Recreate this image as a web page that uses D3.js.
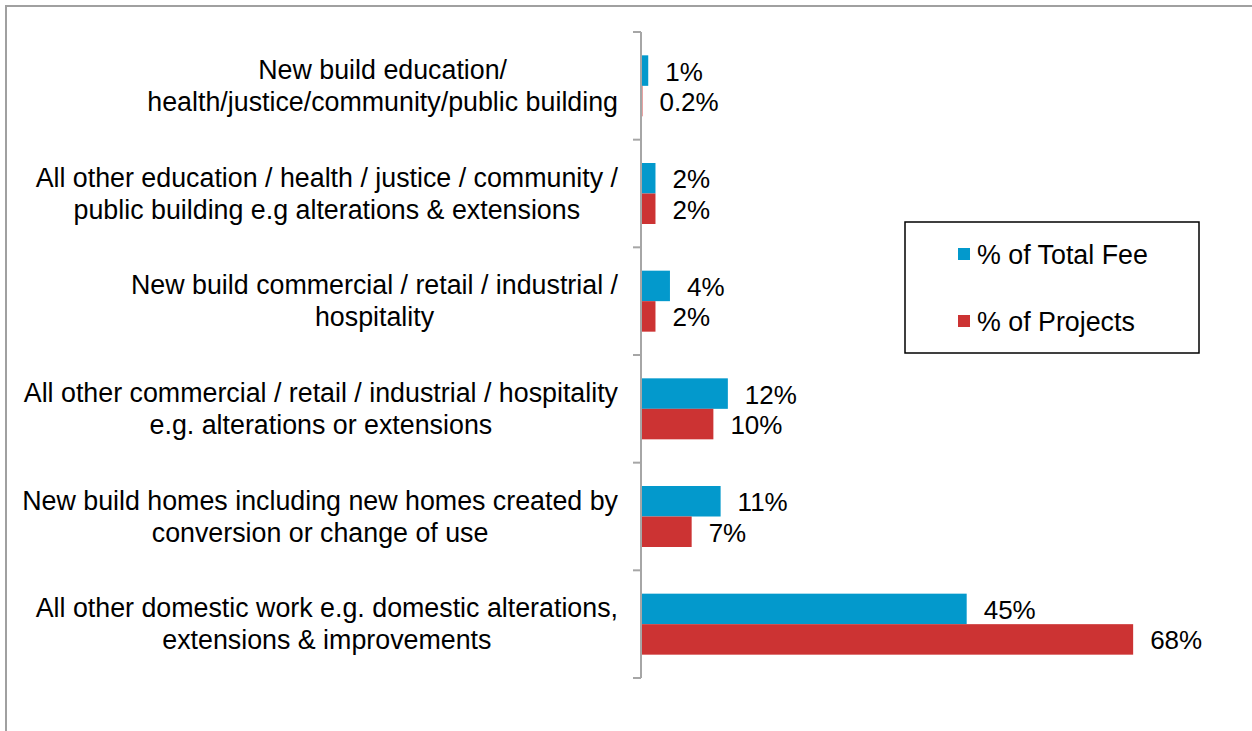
<!DOCTYPE html>
<html>
<head>
<meta charset="utf-8">
<script src="https://cdn.jsdelivr.net/npm/d3@7"></script>
<style>
  html, body { margin: 0; padding: 0; background: #fff; }
  svg { display: block; font-family: "Liberation Sans", Arial, sans-serif; }
</style>
</head>
<body>
<svg id="chart" width="1252" height="731"></svg>
<script>
// Work type categories, each label split into its display lines
const categories = [
  ["New build education/", "health/justice/community/public building"],
  ["All other education / health / justice / community /", "public building e.g alterations & extensions"],
  ["New build commercial / retail / industrial /", "hospitality"],
  ["All other commercial / retail / industrial / hospitality", "e.g. alterations or extensions"],
  ["New build homes including new homes created by", "conversion or change of use"],
  ["All other domestic work e.g. domestic alterations,", "extensions & improvements"]
];
// Share of total fee income (%)
const totalFee = [1, 2, 4, 12, 11, 45];
// Share of projects (%)
const projects = [0.2, 2, 2, 10, 7, 68];
const seriesNames = ["% of Total Fee", "% of Projects"];
const seriesColors = ["#0399cc", "#cc3333"];

const svg = d3.select("#chart");
const labelSize = 26.8;
const valueSize = 26;

// Outer chart frame (runs off the right and bottom edges)
svg.append("rect")
  .attr("x", 6).attr("y", 6)
  .attr("width", 1300).attr("height", 800)
  .attr("fill", "none")
  .attr("stroke", "#a0a0a0")
  .attr("stroke-width", 2);

const x0 = 641;
const x = d3.scaleLinear().domain([0, 80]).range([x0, x0 + 579]);
const idx = d3.range(categories.length);
const y = d3.scaleBand().domain(idx).range([32, 678]).padding(0);
const ySub = d3.scaleBand().domain([0, 1]).range([0, y.bandwidth()])
  .paddingInner(0).paddingOuter(0.765);

const data = idx.map(i => ({ i, values: [totalFee[i], projects[i]] }));

// Bars
const groups = svg.append("g").selectAll("g").data(data).join("g")
  .attr("transform", d => `translate(0,${y(d.i)})`);

groups.selectAll("rect").data(d => d.values.map((v, s) => ({ v, s })))
  .join("rect")
  .attr("x", x(0))
  .attr("y", d => ySub(d.s))
  .attr("width", d => x(d.v) - x(0))
  .attr("height", ySub.bandwidth())
  .attr("fill", d => seriesColors[d.s]);

// Value labels
groups.selectAll("text.val").data(d => d.values.map((v, s) => ({ v, s })))
  .join("text")
  .attr("class", "val")
  .attr("x", d => x(d.v) + 17)
  .attr("y", d => ySub(d.s) + ySub.bandwidth() / 2 + 1)
  .attr("dominant-baseline", "central")
  .attr("font-size", valueSize)
  .attr("fill", "#000")
  .text(d => d.v + "%");

// Category axis
const axis = d3.axisLeft(y).tickSize(0).tickFormat("");
const axisG = svg.append("g").attr("transform", `translate(${x0},0)`).call(axis);
axisG.select(".domain").attr("stroke", "#a6a6a6").attr("stroke-width", 2)
  .attr("d", `M0,${y.range()[0]}V${y.range()[1]}`);
axisG.selectAll(".tick").remove();

// Tick marks on category boundaries
const bounds = idx.map(i => y(i)).concat([y.range()[1]]);
axisG.selectAll("line.bnd").data(bounds).join("line")
  .attr("class", "bnd")
  .attr("x1", -8).attr("x2", 0)
  .attr("y1", d => d).attr("y2", d => d)
  .attr("stroke", "#a6a6a6").attr("stroke-width", 2);

// Category labels: each block sits flush against the axis, lines centred within it
const lineGap = 32;
const labelRight = 618;
svg.append("g").selectAll("text").data(data).join("text")
  .attr("text-anchor", "middle")
  .attr("font-size", labelSize)
  .attr("fill", "#000")
  .each(function (d) {
    const cy = y(d.i) + y.bandwidth() / 2;
    const lines = categories[d.i];
    const t = d3.select(this);
    const spans = lines.map((ln, k) => t.append("tspan")
      .attr("y", cy + (k - (lines.length - 1) / 2) * lineGap)
      .attr("dominant-baseline", "central")
      .text(ln));
    const widest = d3.max(spans, s => s.node().getComputedTextLength());
    spans.forEach(s => s.attr("x", labelRight - widest / 2));
  });

// Legend
const legend = svg.append("g");
legend.append("rect")
  .attr("x", 905).attr("y", 222)
  .attr("width", 294).attr("height", 131)
  .attr("fill", "#fff")
  .attr("stroke", "#000").attr("stroke-width", 1.5);
const items = legend.selectAll("g").data(seriesNames).join("g")
  .attr("transform", (d, k) => `translate(958,${254 + k * 67})`);
items.append("rect")
  .attr("x", 0).attr("y", -6)
  .attr("width", 12).attr("height", 12)
  .attr("fill", (d, k) => seriesColors[k]);
items.append("text")
  .attr("x", 19).attr("y", 1)
  .attr("dominant-baseline", "central")
  .attr("font-size", labelSize)
  .attr("fill", "#000")
  .text(d => d);
</script>
</body>
</html>
